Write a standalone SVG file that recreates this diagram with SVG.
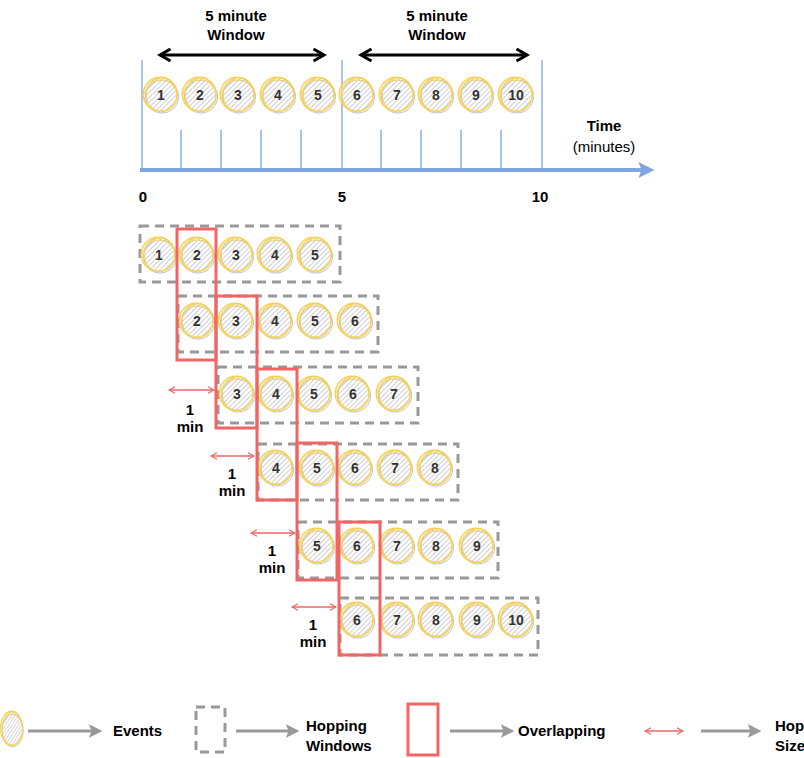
<svg xmlns="http://www.w3.org/2000/svg" xmlns:xlink="http://www.w3.org/1999/xlink" width="804" height="758" viewBox="0 0 804 758">
<style>
  .lbl{font-family:"Liberation Sans",Arial,sans-serif;font-weight:bold;font-size:15px;fill:#000;text-anchor:middle}
  .lblL{font-family:"Liberation Sans",Arial,sans-serif;font-weight:bold;font-size:15px;fill:#000}
  .reg{font-family:"Liberation Sans",Arial,sans-serif;font-size:15px;fill:#000;text-anchor:middle}
  .num{font-family:"Liberation Sans",Arial,sans-serif;font-weight:bold;font-size:14px;fill:#333;text-anchor:middle}
  .win{fill:none;stroke:#999;stroke-width:3;stroke-dasharray:9 6}
  .ovl{fill:none;stroke:#f36464;stroke-width:3}
  .tick{stroke:#a9c4eb;stroke-width:2;fill:none}
  .axis{stroke:#7ea6e0;stroke-width:4;fill:none}
  .warr{stroke:#000;stroke-width:3;fill:none}
  .hop{stroke:#f36464;stroke-width:1.4;fill:none}
  .garr{stroke:#999;stroke-width:3;fill:none}
</style>
<defs>
  <pattern id="hatch" width="3.5" height="3.5" patternUnits="userSpaceOnUse" patternTransform="rotate(45)">
    <rect width="3.5" height="3.5" fill="#fff"/>
    <line x1="0" y1="0" x2="0" y2="3.5" stroke="#adadad" stroke-width="1.2"/>
  </pattern>
  <g id="ev">
    <circle r="16.5" fill="url(#hatch)"/>
    <circle cx="1" cy="1.5" r="16.5" fill="none" stroke="#bdbdbd" stroke-width="1"/>
    <circle cx="-0.8" cy="-0.8" r="17" fill="none" stroke="#f6cf4f" stroke-width="1.3"/>
    <ellipse cx="0.5" cy="-0.3" rx="15.5" ry="16.8" fill="none" stroke="#f6cf4f" stroke-width="1.1"/>
    <ellipse cx="-0.5" cy="0.8" rx="16.6" ry="15.6" fill="none" stroke="#f8d86a" stroke-width="0.9"/>
  </g>
  <marker id="mBlack" viewBox="0 0 10 10" refX="8" refY="5" markerWidth="5" markerHeight="5" orient="auto-start-reverse" markerUnits="strokeWidth">
    <path d="M1,1 L8,5 L1,9" fill="none" stroke="#000" stroke-width="2"/>
  </marker>
  <marker id="mBlue" viewBox="0 0 10 10" refX="6" refY="5" markerWidth="4" markerHeight="4" orient="auto" markerUnits="strokeWidth">
    <path d="M0,0 L10,5 L0,10 L2,5 Z" fill="#7ea6e0"/>
  </marker>
  <marker id="mRed" viewBox="0 0 10 10" refX="9" refY="5" markerWidth="6" markerHeight="6" orient="auto-start-reverse" markerUnits="strokeWidth">
    <path d="M2,1 L9,5 L2,9" fill="none" stroke="#f36464" stroke-width="1.4"/>
  </marker>
  <marker id="mGray" viewBox="0 0 10 10" refX="6" refY="5" markerWidth="4.5" markerHeight="4.5" orient="auto" markerUnits="strokeWidth">
    <path d="M0,0 L10,5 L0,10 L2,5 Z" fill="#999"/>
  </marker>
</defs>
<rect width="804" height="758" fill="#fff"/>

<!-- Timeline -->
<g id="timeline">
  <line class="tick" x1="142" y1="60" x2="142" y2="170"/>
  <line class="tick" x1="342" y1="60" x2="342" y2="170"/>
  <line class="tick" x1="542" y1="60" x2="542" y2="170"/>
  <line class="tick" x1="181" y1="130" x2="181" y2="170"/>
  <line class="tick" x1="221" y1="130" x2="221" y2="170"/>
  <line class="tick" x1="261" y1="130" x2="261" y2="170"/>
  <line class="tick" x1="301" y1="130" x2="301" y2="170"/>
  <line class="tick" x1="381" y1="130" x2="381" y2="170"/>
  <line class="tick" x1="421" y1="130" x2="421" y2="170"/>
  <line class="tick" x1="461" y1="130" x2="461" y2="170"/>
  <line class="tick" x1="501" y1="130" x2="501" y2="170"/>
  <line class="axis" x1="140" y1="170" x2="648" y2="170" marker-end="url(#mBlue)"/>
  <text class="lbl" x="143" y="202" font-size="13">0</text>
  <text class="lbl" x="342" y="202" font-size="13">5</text>
  <text class="lbl" x="540" y="202" font-size="13">10</text>
  <text class="lbl" x="604" y="131">Time</text>
  <text class="reg" x="604" y="152">(minutes)</text>
</g>

<g id="window-labels">
  <line class="warr" x1="160" y1="55" x2="324" y2="55" marker-start="url(#mBlack)" marker-end="url(#mBlack)"/>
  <line class="warr" x1="361" y1="55" x2="527" y2="55" marker-start="url(#mBlack)" marker-end="url(#mBlack)"/>
  <text class="lbl" x="236" y="21">5 minute</text>
  <text class="lbl" x="236" y="40">Window</text>
  <text class="lbl" x="437" y="21">5 minute</text>
  <text class="lbl" x="437" y="40">Window</text>
</g>

<g id="timeline-events">
  <use href="#ev" x="161" y="95"/><text class="num" x="161" y="100">1</text>
  <use href="#ev" x="200" y="95"/><text class="num" x="200" y="100">2</text>
  <use href="#ev" x="238" y="95"/><text class="num" x="238" y="100">3</text>
  <use href="#ev" x="278" y="95"/><text class="num" x="278" y="100">4</text>
  <use href="#ev" x="318" y="95"/><text class="num" x="318" y="100">5</text>
  <use href="#ev" x="357" y="95"/><text class="num" x="357" y="100">6</text>
  <use href="#ev" x="397" y="95"/><text class="num" x="397" y="100">7</text>
  <use href="#ev" x="436" y="95"/><text class="num" x="436" y="100">8</text>
  <use href="#ev" x="476" y="95"/><text class="num" x="476" y="100">9</text>
  <use href="#ev" x="516" y="95"/><text class="num" x="516" y="100">10</text>
</g>

<!-- Hopping windows -->
<g id="window1">
  <rect class="win" x="140" y="226" width="200" height="56"/>
  <use href="#ev" x="159" y="255"/><text class="num" x="159" y="260">1</text>
  <use href="#ev" x="197" y="255"/><text class="num" x="197" y="260">2</text>
  <use href="#ev" x="236" y="255"/><text class="num" x="236" y="260">3</text>
  <use href="#ev" x="275" y="255"/><text class="num" x="275" y="260">4</text>
  <use href="#ev" x="315" y="255"/><text class="num" x="315" y="260">5</text>
</g>
<g id="window2">
  <rect class="win" x="178" y="296" width="200" height="56"/>
  <use href="#ev" x="197" y="321"/><text class="num" x="197" y="326">2</text>
  <use href="#ev" x="236" y="321"/><text class="num" x="236" y="326">3</text>
  <use href="#ev" x="275" y="321"/><text class="num" x="275" y="326">4</text>
  <use href="#ev" x="315" y="321"/><text class="num" x="315" y="326">5</text>
  <use href="#ev" x="355" y="321"/><text class="num" x="355" y="326">6</text>
</g>
<g id="window3">
  <rect class="win" x="218" y="367" width="200" height="56"/>
  <use href="#ev" x="237" y="394"/><text class="num" x="237" y="399">3</text>
  <use href="#ev" x="276" y="394"/><text class="num" x="276" y="399">4</text>
  <use href="#ev" x="314" y="394"/><text class="num" x="314" y="399">5</text>
  <use href="#ev" x="353" y="394"/><text class="num" x="353" y="399">6</text>
  <use href="#ev" x="394" y="394"/><text class="num" x="394" y="399">7</text>
</g>
<g id="window4">
  <rect class="win" x="258" y="444" width="200" height="56"/>
  <use href="#ev" x="276" y="468"/><text class="num" x="276" y="473">4</text>
  <use href="#ev" x="317" y="468"/><text class="num" x="317" y="473">5</text>
  <use href="#ev" x="355" y="468"/><text class="num" x="355" y="473">6</text>
  <use href="#ev" x="395" y="468"/><text class="num" x="395" y="473">7</text>
  <use href="#ev" x="435" y="468"/><text class="num" x="435" y="473">8</text>
</g>
<g id="window5">
  <rect class="win" x="298" y="522" width="200" height="56"/>
  <use href="#ev" x="317" y="546"/><text class="num" x="317" y="551">5</text>
  <use href="#ev" x="357" y="546"/><text class="num" x="357" y="551">6</text>
  <use href="#ev" x="397" y="546"/><text class="num" x="397" y="551">7</text>
  <use href="#ev" x="436" y="546"/><text class="num" x="436" y="551">8</text>
  <use href="#ev" x="477" y="546"/><text class="num" x="477" y="551">9</text>
</g>
<g id="window6">
  <rect class="win" x="340" y="598" width="198" height="57"/>
  <use href="#ev" x="357" y="620"/><text class="num" x="357" y="625">6</text>
  <use href="#ev" x="397" y="620"/><text class="num" x="397" y="625">7</text>
  <use href="#ev" x="436" y="620"/><text class="num" x="436" y="625">8</text>
  <use href="#ev" x="477" y="620"/><text class="num" x="477" y="625">9</text>
  <use href="#ev" x="516" y="620"/><text class="num" x="516" y="625">10</text>
</g>

<!-- Overlaps -->
<g id="overlap1"><rect class="ovl" x="177" y="229" width="39" height="131"/></g>
<g id="overlap2"><rect class="ovl" x="216" y="296" width="41" height="132"/></g>
<g id="overlap3"><rect class="ovl" x="257" y="369" width="40" height="131"/></g>
<g id="overlap4"><rect class="ovl" x="297" y="443" width="40" height="137"/></g>
<g id="overlap5"><rect class="ovl" x="339" y="522" width="41" height="133"/></g>

<!-- Hop size -->
<g id="hop1">
  <line class="hop" x1="169" y1="390" x2="214" y2="390" marker-start="url(#mRed)" marker-end="url(#mRed)"/>
  <text class="lbl" x="190" y="415">1</text>
  <text class="lbl" x="190" y="432">min</text>
</g>
<g id="hop2">
  <line class="hop" x1="211" y1="456" x2="254" y2="456" marker-start="url(#mRed)" marker-end="url(#mRed)"/>
  <text class="lbl" x="232" y="479">1</text>
  <text class="lbl" x="232" y="496">min</text>
</g>
<g id="hop3">
  <line class="hop" x1="251" y1="533" x2="295" y2="533" marker-start="url(#mRed)" marker-end="url(#mRed)"/>
  <text class="lbl" x="272" y="556">1</text>
  <text class="lbl" x="272" y="573">min</text>
</g>
<g id="hop4">
  <line class="hop" x1="292" y1="607" x2="336" y2="607" marker-start="url(#mRed)" marker-end="url(#mRed)"/>
  <text class="lbl" x="313" y="630">1</text>
  <text class="lbl" x="313" y="647">min</text>
</g>

<!-- Legend -->
<g id="legend-events">
  <g transform="translate(12 729) scale(0.65 1)"><use href="#ev"/></g>
  <text class="lblL" x="113" y="736">Events</text>
</g>
<g id="legend-hopping">
  <rect class="win" x="196" y="707" width="29" height="45"/>
  <text class="lblL" x="306" y="731">Hopping</text>
  <text class="lblL" x="306" y="751">Windows</text>
</g>
<g id="legend-overlap">
  <rect class="ovl" x="408" y="704" width="30" height="51"/>
  <text class="lblL" x="518" y="736">Overlapping</text>
</g>
<g id="legend-hop">
  <line class="hop" x1="645" y1="731" x2="683" y2="731" stroke-width="2" marker-start="url(#mRed)" marker-end="url(#mRed)"/>
  <text class="lblL" x="775" y="731">Hop</text>
  <text class="lblL" x="775" y="751">Size</text>
</g>
<g id="connectors">
  <line class="garr" x1="28" y1="731" x2="97" y2="731" marker-end="url(#mGray)"/>
  <line class="garr" x1="236" y1="731" x2="294" y2="731" marker-end="url(#mGray)"/>
  <line class="garr" x1="450" y1="731" x2="509" y2="731" marker-end="url(#mGray)"/>
  <line class="garr" x1="701" y1="731" x2="756" y2="731" marker-end="url(#mGray)"/>
</g>
</svg>
